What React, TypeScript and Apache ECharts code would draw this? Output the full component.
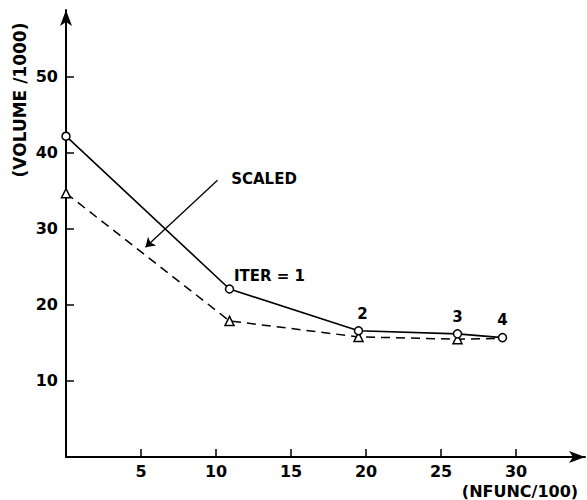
import React, { useEffect, useRef } from "react";
import * as echarts from "echarts";

const xTicks = [5, 10, 15, 20, 25, 30];
const yTicks = [10, 20, 30, 40, 50];
const iterLabels = ["", "ITER = 1", "2", "3", "4"];
const solidX = [0, 10.9, 19.5, 26.1, 29.1];
const solidY = [42.2, 22.1, 16.6, 16.2, 15.7];
const scaledX = [0, 10.9, 19.5, 26.1, 29.1];
const scaledY = [34.7, 17.9, 15.8, 15.5, 15.6];
const scaledText = "SCALED";
const scaledArrowFrom = [10.1, 36.4];
const scaledArrowTo = [5.3, 27.6];
const scaledTextAt = [13.2, 36.6];

const FONT = "DejaVu Sans";

export default function App() {
  const ref = useRef<HTMLDivElement>(null);
  useEffect(() => {
    const chart = echarts.init(ref.current!, null, { renderer: "svg" });
    const labelOffsets: any[] = [null, [40, 4], [4, 0], [0, 0], [0, 0]];
    const solidData = solidX.map((x, i) => ({
      value: [x, solidY[i]],
      label: i === 0
        ? { show: false }
        : {
            show: true,
            position: "top",
            distance: 5,
            offset: labelOffsets[i],
            formatter: iterLabels[i],
            color: "#000",
            fontFamily: FONT,
            fontWeight: "bold",
            fontSize: 15,
          },
    }));
    const scaledData = scaledX.map((x, i) => ({
      value: [x, scaledY[i]],
      symbol: i === scaledX.length - 1 ? "none" : "triangle",
    }));
    chart.setOption({
      animation: false,
      backgroundColor: "#fff",
      grid: { left: 66, top: 10, width: 519, height: 447, containLabel: false },
      xAxis: {
        type: "value",
        min: 0,
        max: 34.6,
        interval: 5,
        splitLine: { show: false },
        axisLine: {
          show: true,
          onZero: false,
          symbol: ["none", "arrow"],
          symbolSize: [9, 16],
          lineStyle: { color: "#000", width: 2 },
        },
        axisTick: { show: true, inside: true, length: 8, customValues: xTicks, lineStyle: { color: "#000", width: 1.5 } },
        axisLabel: {
          show: true,
          customValues: xTicks,
          margin: 6,
          color: "#000",
          fontFamily: FONT,
          fontWeight: "bold",
          fontSize: 16,
        },
      },
      yAxis: {
        type: "value",
        min: 0,
        max: 58.8,
        interval: 10,
        splitLine: { show: false },
        axisLine: {
          show: true,
          onZero: false,
          symbol: ["none", "arrow"],
          symbolSize: [9, 16],
          lineStyle: { color: "#000", width: 2 },
        },
        axisTick: { show: true, inside: true, length: 8, customValues: yTicks, lineStyle: { color: "#000", width: 1.5 } },
        axisLabel: {
          show: true,
          customValues: yTicks,
          margin: 8,
          color: "#000",
          fontFamily: FONT,
          fontWeight: "bold",
          fontSize: 16,
        },
      },
      graphic: [
        {
          type: "text",
          x: 20,
          y: 100,
          rotation: Math.PI / 2,
          style: {
            text: "(VOLUME /1000)",
            fill: "#000",
            font: `bold 17px "${FONT}"`,
            textAlign: "center",
            textVerticalAlign: "middle",
          },
        },
        {
          type: "text",
          x: 520,
          y: 491,
          style: {
            text: "(NFUNC/100)",
            fill: "#000",
            font: `bold 16px "${FONT}"`,
            textAlign: "center",
            textVerticalAlign: "middle",
          },
        },
      ],
      series: [
        {
          type: "line",
          data: solidData,
          symbol: "circle",
          symbolSize: 8,
          lineStyle: { color: "#000", width: 1.6 },
          itemStyle: { color: "#fff", borderColor: "#000", borderWidth: 1.5 },
          z: 3,
        },
        {
          type: "line",
          data: scaledData,
          symbolSize: 9,
          lineStyle: { color: "#000", width: 1.5, type: [9, 6] },
          itemStyle: { color: "#fff", borderColor: "#000", borderWidth: 1.5 },
          z: 2,
          markLine: {
            silent: true,
            symbol: ["none", "arrow"],
            symbolSize: 9,
            lineStyle: { color: "#000", width: 1.3, type: "solid" },
            label: { show: false },
            data: [[{ coord: scaledArrowFrom }, { coord: scaledArrowTo }]],
          },
          markPoint: {
            symbol: "circle",
            symbolSize: 0,
            label: {
              show: true,
              position: "inside",
              formatter: scaledText,
              color: "#000",
              fontFamily: FONT,
              fontWeight: "bold",
              fontSize: 15,
            },
            data: [{ coord: scaledTextAt }],
          },
        },
      ],
    });
    return () => chart.dispose();
  }, []);
  return (
    <div
      ref={ref}
      style={{ position: "fixed", left: 0, top: 0, width: 587, height: 500 }}
    />
  );
}
